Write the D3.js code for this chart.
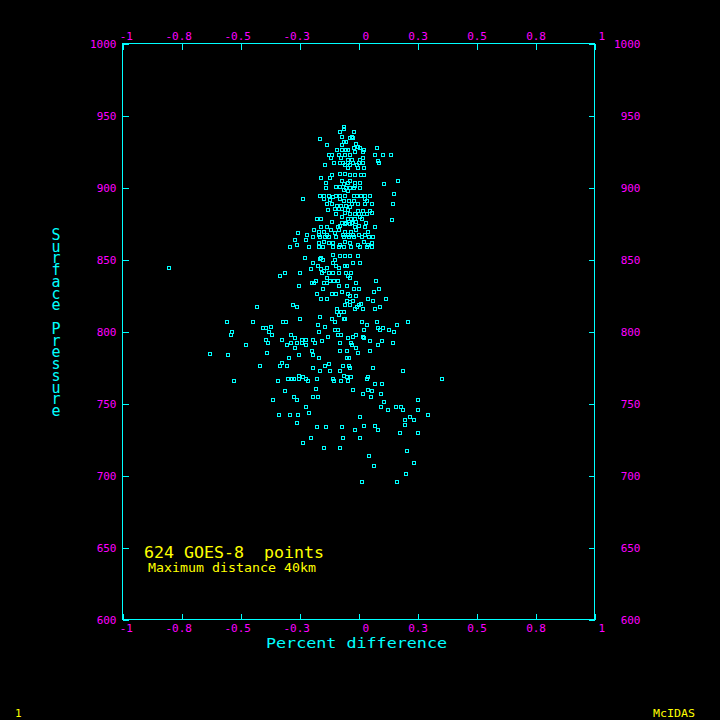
<!DOCTYPE html>
<html>
<head>
<meta charset="utf-8">
<script src="https://cdn.jsdelivr.net/npm/d3@7"></script>
<style>
  html, body { margin: 0; padding: 0; background: #000; }
  svg { display: block; }
  text { font-family: "DejaVu Sans Mono", "Liberation Mono", monospace; }
</style>
</head>
<body>
<div id="chart"></div>
<script>
// axis ticks
let xTicks = [-1, -0.75, -0.5, -0.25, 0, 0.25, 0.5, 0.75, 1];
let xTickLabels = ["-1", "-0.8", "-0.5", "-0.3", "0", "0.3", "0.5", "0.8", "1"];
let yTicks = [600, 650, 700, 750, 800, 850, 900, 950, 1000];

// [percent difference, surface pressure]
let upperCore = [
  [-0.059,942],[-0.076,938],[-0.059,940],[-0.017,938],[-0.068,935],[-0.025,935],[-0.034,934],[-0.021,934],
  [-0.161,933],[-0.131,929],[-0.068,929],[-0.059,931],[-0.051,931],[-0.008,930],[0,928],[-0.017,927],
  [0.008,927],[0.025,926],[0.081,927],[-0.089,926],[-0.068,926],[-0.051,926],[-0.042,926],[-0.013,924],
  [0.021,924],[-0.123,922],[-0.110,922],[-0.081,922],[-0.055,922],[-0.034,922],[0.072,922],[0.106,922],
  [0.140,922],[-0.114,920],[-0.072,920],[0.008,919],[0.021,920],[-0.042,919],[-0.025,919],[0.085,918],
  [0.089,917],[-0.102,917],[-0.076,917],[-0.064,917],[-0.042,917],[-0.021,917],[0.004,917],[0.021,917],
  [-0.140,915],[-0.055,915],[-0.034,915],[-0.004,915],[-0.042,913],[0,913],[0.025,913],[-0.110,908],
  [-0.076,909],[-0.055,909],[-0.034,908],[-0.013,908],[0.013,908],[0.025,908],[-0.157,906],[-0.119,906],
  [-0.068,904],[-0.034,904],[-0.013,903],[0.008,903],[-0.136,903],[0.169,904],[-0.059,902],[-0.042,903],
  [-0.013,901],[0.110,902],[-0.093,900],[-0.076,900],[-0.051,899],[-0.034,899],[-0.017,899],[0.008,899],
  [-0.136,899],[-0.059,898],[-0.042,897],[0.153,895],[-0.161,894],[-0.144,894],[-0.123,894],[-0.093,894],
  [-0.076,894],[-0.055,894],[-0.017,894],[-0.004,894],[0.013,894],[0.030,894],[0.051,894],[-0.233,892],
  [-0.144,892],[-0.119,891],[-0.106,893],[-0.076,892],[-0.059,890],[-0.038,890],[-0.017,890],[0.030,892],
  [0.038,890],[-0.131,888],[-0.110,888],[-0.089,887],[-0.072,887],[-0.051,887],[-0.025,888],[0,888],
  [0.030,888],[0.059,888],[0.148,888],[-0.127,884],[-0.097,885],[-0.081,885],[-0.068,885],[-0.042,884],
  [-0.034,886],[0,883],[0.021,883],[0.051,883],[-0.093,881],[-0.055,882],[-0.034,881],[-0.013,881],
  [0.004,881],[0.025,881],[0.038,881],[0.059,882],[-0.174,878],[-0.157,878],[-0.068,879],[-0.042,878],
  [-0.030,878],[-0.013,878],[0.008,879],[0.017,878],[0.144,877],[-0.110,876],[-0.068,875],[-0.051,875],
  [-0.025,875],[-0.008,876],[0.034,875],[-0.076,873],[-0.055,874],[-0.034,874],[-0.013,872],[0.004,873],
  [-0.157,872],[-0.131,872],[-0.085,872],[0.030,872],[0.072,872],[-0.186,870],[-0.165,869],[-0.144,869],
  [-0.114,870],[-0.081,870],[-0.055,869],[-0.030,869],[-0.008,870],[-0.254,868],[-0.216,867],[-0.165,867],
  [-0.131,867],[-0.097,868],[-0.064,867],[-0.042,867],[-0.021,867],[0.004,867],[0.030,867],[0.042,869],
  [-0.191,865],[-0.161,865],[-0.140,865],[-0.123,865],[-0.093,865],[-0.059,865],[-0.038,865],[-0.017,865],
  [0.017,865],[0.047,865],[0.064,865],[-0.267,863],[-0.258,860],[-0.220,863],[-0.165,861],[-0.144,862],
  [-0.123,861],[-0.106,861],[-0.076,860],[-0.055,862],[-0.034,861],[0,860],[0.025,862],[0.042,860],
  [0.059,861],[-0.288,858],[-0.208,858],[-0.165,858],[-0.148,858],[-0.106,858],[-0.081,858],[-0.059,858],
  [-0.030,858],[0.008,858],[0.038,858],[0.059,858]
];

let middleBand = [
  [-0.225,851],[-0.191,847],[-0.157,851],[-0.148,849],[-0.161,850],[-0.106,853],[-0.097,849],[-0.076,852],
  [-0.055,852],[-0.034,852],[-0.021,847],[0.008,847],[0,852],[-0.169,845],[-0.157,843],[-0.144,842],
  [-0.131,844],[-0.106,847],[-0.093,845],[-0.081,844],[-0.055,845],[-0.047,845],[-0.199,843],[-0.330,838],
  [-0.309,840],[-0.246,840],[-0.153,840],[-0.123,840],[-0.106,840],[-0.081,840],[-0.051,840],[-0.030,840],
  [-0.119,835],[-0.102,835],[-0.085,835],[-0.131,837],[-0.034,837],[-0.008,833],[-0.042,838],[-0.178,835],
  [-0.195,833],[-0.186,833],[0.076,835],[-0.144,833],[-0.131,833],[-0.148,829],[-0.250,831],[-0.081,831],
  [-0.047,831],[-0.017,829],[0.004,829],[0.089,829],[-0.110,826],[-0.093,826],[-0.068,827],[-0.042,826],
  [-0.034,824],[-0.174,826],[0.068,827],[-0.008,824],[-0.157,822],[-0.131,822],[-0.047,821],[-0.034,820],
  [-0.021,821],[0.013,819],[0.042,822],[0.064,821],[0.119,822],[-0.275,818],[-0.258,817],[-0.055,818],
  [-0.034,818],[-0.004,817],[0.004,818],[0.021,815],[-0.013,815],[0.093,817],[0.072,815],[-0.089,815],
  [-0.089,813],[-0.072,813],[-0.059,813],[-0.081,811],[-0.161,810],[-0.059,808],[-0.055,808],[-0.110,808],
  [-0.097,806],[-0.246,808],[-0.318,806],[-0.305,806],[-0.169,804],[-0.140,803],[0.017,806],[0.038,804],
  [0.081,806],[0.212,806],[0.165,804],[-0.369,803],[-0.097,801],[-0.085,801],[0.085,802],[0.106,802],
  [0.093,801],[0.131,801],[0.025,801],[-0.165,799],[0.153,799],[-0.284,797],[-0.267,795],[-0.237,794],
  [-0.220,794],[-0.127,796],[-0.085,797],[-0.072,797],[-0.021,796],[-0.008,797],[-0.042,795],[0.025,795],
  [0.021,796],[-0.322,794],[-0.191,794],[-0.153,793],[-0.076,792],[0.051,793],[0.102,793],[-0.301,790],
  [-0.284,792],[-0.258,792],[-0.237,792],[-0.220,790],[-0.182,792],[-0.030,792],[0.085,790],[0.148,792],
  [-0.025,790],[-0.008,788],[-0.267,788],[-0.195,786],[-0.076,786],[-0.047,786],[0,785],[0.051,786],
  [-0.250,783],[-0.191,783],[-0.165,781],[-0.047,781],[-0.038,781],[-0.292,781]
];

let leftWing = [
  [-0.801,844],[-0.428,817],[-0.555,806],[-0.445,806],[-0.534,799],[-0.538,797],[-0.403,802],[-0.390,802],
  [-0.377,799],[-0.364,797],[-0.390,794],[-0.381,792],[-0.627,784],[-0.551,783],[-0.475,790],[-0.386,785],
  [-0.322,778],[-0.330,776],[-0.301,776],[-0.415,776],[-0.525,765],[-0.339,765],[-0.297,767],[-0.280,767],
  [-0.271,767],[-0.250,769],[-0.250,767],[-0.233,768],[-0.220,767],[-0.212,765],[-0.309,758],[-0.271,754],
  [-0.258,752],[-0.360,752],[-0.220,747],[-0.335,742],[-0.288,742],[-0.254,742],[-0.208,743],[-0.258,736],
  [-0.233,722]
];

let lowerTail = [
  [-0.140,776],[-0.123,777],[-0.191,774],[-0.161,772],[-0.119,772],[-0.076,772],[-0.064,776],[-0.038,776],
  [-0.034,774],[0.064,774],[0.191,772],[-0.059,769],[-0.047,768],[-0.030,768],[-0.174,767],[-0.106,767],
  [-0.102,765],[-0.072,765],[-0.042,765],[0.038,767],[0.042,768],[0.356,767],[0.072,763],[0.102,763],
  [-0.178,760],[-0.021,759],[0.042,759],[0.059,758],[0.021,756],[0.055,754],[0.097,756],[-0.191,754],
  [-0.169,754],[0.110,751],[0.254,752],[0.097,747],[0.127,745],[0.161,747],[0.182,747],[0.191,745],
  [0.254,745],[0.297,742],[0.199,738],[0.237,738],[0.220,740],[0.199,735],[0.008,740],[-0.174,733],
  [-0.136,733],[-0.068,733],[-0.013,731],[0.025,734],[0.072,734],[0.085,731],[0.178,729],[0.254,729],
  [-0.199,726],[-0.064,726],[0.008,726],[-0.144,719],[-0.076,719],[0.208,717],[0.047,713],[0.068,706],
  [0.237,708],[0.203,701],[0.017,695],[0.165,695]
];

let allPoints = upperCore.concat(middleBand, leftWing, lowerTail);

let svgWidth = 720;
let svgHeight = 720;
let cyan = "#00ffff";
let magenta = "#ff00ff";
let yellow = "#ffff00";

let svg = d3.select("#chart").append("svg")
    .attr("width", svgWidth)
    .attr("height", svgHeight)
    .style("background", "#000");

let x = d3.scaleLinear().domain([-1, 1]).range([122, 594]);
let y = d3.scaleLinear().domain([600, 1000]).range([619, 43]);

let frame = svg.append("g")
    .attr("transform", "translate(0.5,0.5)")
    .attr("shape-rendering", "crispEdges");

frame.append("rect")
    .attr("x", x(-1)).attr("y", y(1000))
    .attr("width", x(1) - x(-1)).attr("height", y(600) - y(1000))
    .attr("fill", "none").attr("stroke", cyan);

function styleAxis(g) {
    g.select(".domain").remove();
    g.selectAll(".tick line").attr("stroke", cyan);
    g.selectAll(".tick text")
        .attr("fill", magenta)
        .style("font-size", "11px")
        .style("font-family", "'DejaVu Sans Mono', monospace");
}

let fmtX = function (d, i) { return xTickLabels[i]; };

let bottomAxis = frame.append("g")
    .attr("transform", "translate(0," + y(600) + ")")
    .call(d3.axisBottom(x).tickValues(xTicks).tickFormat(fmtX).tickSizeInner(-6).tickSizeOuter(0).tickPadding(5))
    .call(styleAxis);
bottomAxis.selectAll(".tick text").attr("text-anchor", "end").attr("x", 10);

let topAxis = frame.append("g")
    .attr("transform", "translate(0," + y(1000) + ")")
    .call(d3.axisTop(x).tickValues(xTicks).tickFormat(fmtX).tickSizeInner(-6).tickSizeOuter(0).tickPadding(4))
    .call(styleAxis);
topAxis.selectAll(".tick text").attr("text-anchor", "end").attr("x", 10);

frame.append("g")
    .attr("transform", "translate(" + x(-1) + ",0)")
    .call(d3.axisLeft(y).tickValues(yTicks).tickFormat(d3.format("d")).tickSizeInner(-6).tickSizeOuter(0).tickPadding(6))
    .call(styleAxis);

let rightAxis = frame.append("g")
    .attr("transform", "translate(" + x(1) + ",0)")
    .call(d3.axisRight(y).tickValues(yTicks).tickFormat(d3.format("d")).tickSizeInner(-6).tickSizeOuter(0).tickPadding(6))
    .call(styleAxis);
rightAxis.selectAll(".tick text").attr("text-anchor", "end").attr("x", 46);

// scatter points: small hollow squares
svg.append("g")
    .attr("shape-rendering", "crispEdges")
    .selectAll("rect")
    .data(allPoints)
    .enter().append("rect")
    .attr("x", function (d) { return Math.round(x(d[0])) - 1.5; })
    .attr("y", function (d) { return Math.round(y(d[1])) - 1.5; })
    .attr("width", 3)
    .attr("height", 3)
    .attr("fill", "none")
    .attr("stroke", cyan)
    .attr("stroke-width", 1);

// axis titles
svg.append("text")
    .attr("x", 266).attr("y", 648)
    .attr("textLength", 181).attr("lengthAdjust", "spacingAndGlyphs")
    .attr("fill", cyan)
    .style("font-size", "14px")
    .text("Percent difference");

// y title: upright letters stacked top to bottom
svg.append("text")
    .attr("x", 56).attr("y", 226)
    .attr("textLength", 194).attr("lengthAdjust", "spacing")
    .attr("fill", cyan)
    .style("font-size", "15px")
    .style("writing-mode", "vertical-rl")
    .style("text-orientation", "upright")
    .style("white-space", "pre")
    .text("Surface Pressure");

// legend text
svg.append("text")
    .attr("x", 144).attr("y", 558)
    .attr("textLength", 180).attr("lengthAdjust", "spacingAndGlyphs")
    .attr("fill", yellow)
    .style("font-size", "15px")
    .style("white-space", "pre")
    .text("624 GOES-8  points");

svg.append("text")
    .attr("x", 148).attr("y", 572)
    .attr("textLength", 168).attr("lengthAdjust", "spacingAndGlyphs")
    .attr("fill", yellow)
    .style("font-size", "11.5px")
    .text("Maximum distance 40km");

// frame labels
svg.append("text")
    .attr("x", 15).attr("y", 717)
    .attr("fill", yellow)
    .style("font-size", "11px")
    .text("1");

svg.append("text")
    .attr("x", 653).attr("y", 717)
    .attr("textLength", 42).attr("lengthAdjust", "spacingAndGlyphs")
    .attr("fill", yellow)
    .style("font-size", "11px")
    .text("McIDAS");
</script>
</body>
</html>
